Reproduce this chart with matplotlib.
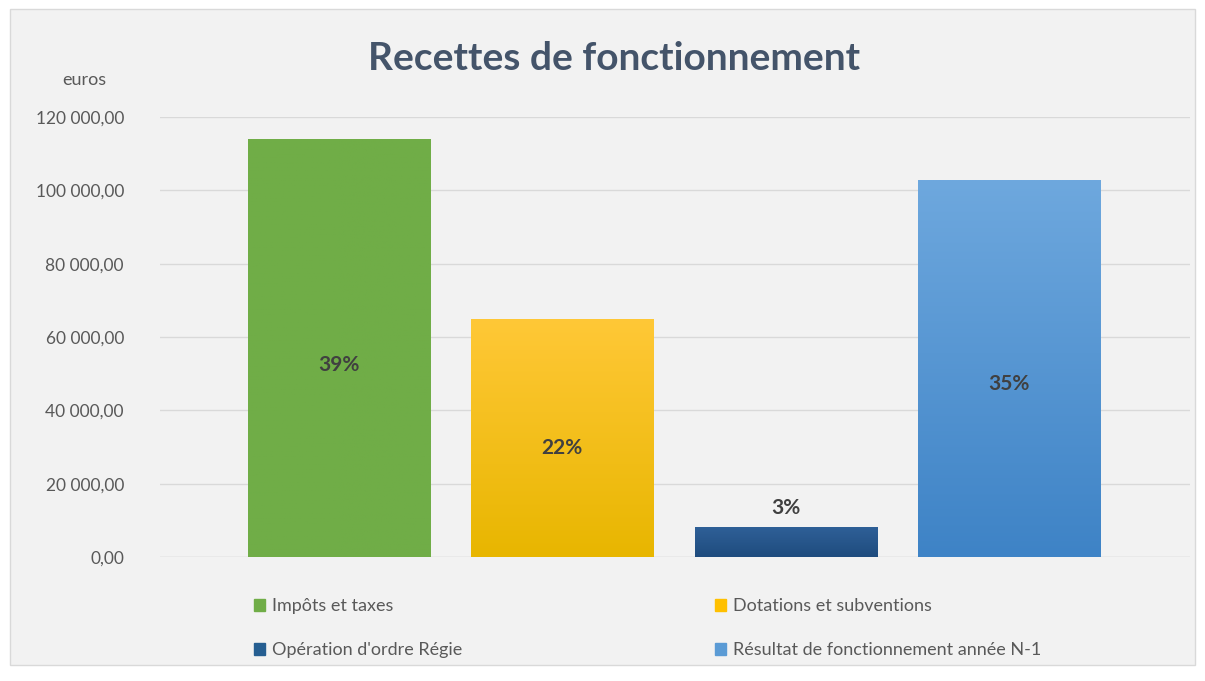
import numpy as np
import matplotlib.pyplot as plt
from matplotlib.patches import Rectangle
from matplotlib.colors import LinearSegmentedColormap

# values (euros)
categories = ["Impôts et taxes", "Dotations et subventions",
              "Opération d'ordre Régie", "Résultat de fonctionnement année N-1"]
values = [114000, 64900, 8200, 102800]
pct_labels = ["39%", "22%", "3%", "35%"]
yticks = [0, 20000, 40000, 60000, 80000, 100000, 120000]

# top colour, bottom colour of each bar
bar_colors = [("#70ad47", "#70ad47"), ("#ffc837", "#e8b600"),
              ("#2f6098", "#1f4c7e"), ("#6ea8de", "#3e83c6")]
legend_colors = ["#70ad47", "#ffc000", "#255e91", "#5b9bd5"]

plt.rcParams['font.family'] = ['Lato', 'DejaVu Sans']

fig = plt.figure(figsize=(12.05, 6.81), dpi=100)
fig.patch.set_facecolor("white")
# light grey chart frame
frame = Rectangle((10 / 1205, 16 / 681), 1185 / 1205, 656 / 681, transform=fig.transFigure,
                  facecolor="#f2f2f2", edgecolor="#d9d9d9", lw=1, zorder=-5)
fig.patches.append(frame)

ax = fig.add_axes([160 / 1205, (681 - 557) / 681, 1030 / 1205, 440 / 681])
ax.set_facecolor("none")

x = np.arange(len(categories))
width = 0.815
bars = ax.bar(x, values, width=width, color="none", zorder=3)

grad = np.linspace(0, 1, 256).reshape(-1, 1)
for b, (top, bot) in zip(bars, bar_colors):
    cmap = LinearSegmentedColormap.from_list("g", [bot, top])
    bx, by = b.get_x(), b.get_y()
    im = ax.imshow(grad, cmap=cmap, aspect="auto", origin="lower",
                   extent=(bx, bx + b.get_width(), by, by + b.get_height()), zorder=2)
    im.set_clip_path(b)

# percentage labels
for i, (v, lab) in enumerate(zip(values, pct_labels)):
    if v < 20000:
        ax.text(i, v + 2500, lab, ha="center", va="bottom", fontsize=15,
                fontweight="bold", color="#404040", zorder=4)
    else:
        ax.text(i, v * 0.46, lab, ha="center", va="center", fontsize=15,
                fontweight="bold", color="#404040", zorder=4)

ax.set_xlim(-0.80, 3.81)
ax.set_ylim(0, 120000)
ax.set_yticks(yticks)
ax.set_yticklabels([f"{t:,.2f}".replace(",", " ").replace(".", ",") for t in yticks])
ax.tick_params(axis="y", length=0, labelsize=12.5, colors="#595959", pad=26)
ax.set_xticks([])
ax.grid(axis="y", color="#d9d9d9", lw=1, zorder=0)
for s in ax.spines.values():
    s.set_visible(False)
ax.axhline(0, color="#d9d9d9", lw=1, zorder=1)

fig.text(62 / 1205, 1 - 80 / 681, "euros", fontsize=13, color="#595959", ha="left", va="center")
fig.text(614 / 1205, 1 - 58 / 681, "Recettes de fonctionnement", fontsize=28,
         fontweight="bold", color="#44546a", ha="center", va="center")

# legend fills column by column, so reorder to get rows like the original
order = [0, 2, 1, 3]
handles = [Rectangle((0, 0), 1, 1, color=legend_colors[i]) for i in order]
fig.legend(handles, [categories[i] for i in order], ncol=2, loc="upper left",
           bbox_to_anchor=(238 / 1205, 1 - 582 / 681), frameon=False,
           fontsize=13, labelcolor="#595959", handlelength=0.6, handleheight=0.6,
           handletextpad=0.4, columnspacing=14.0, labelspacing=1.55)

fig.savefig("out.png", dpi=100)
